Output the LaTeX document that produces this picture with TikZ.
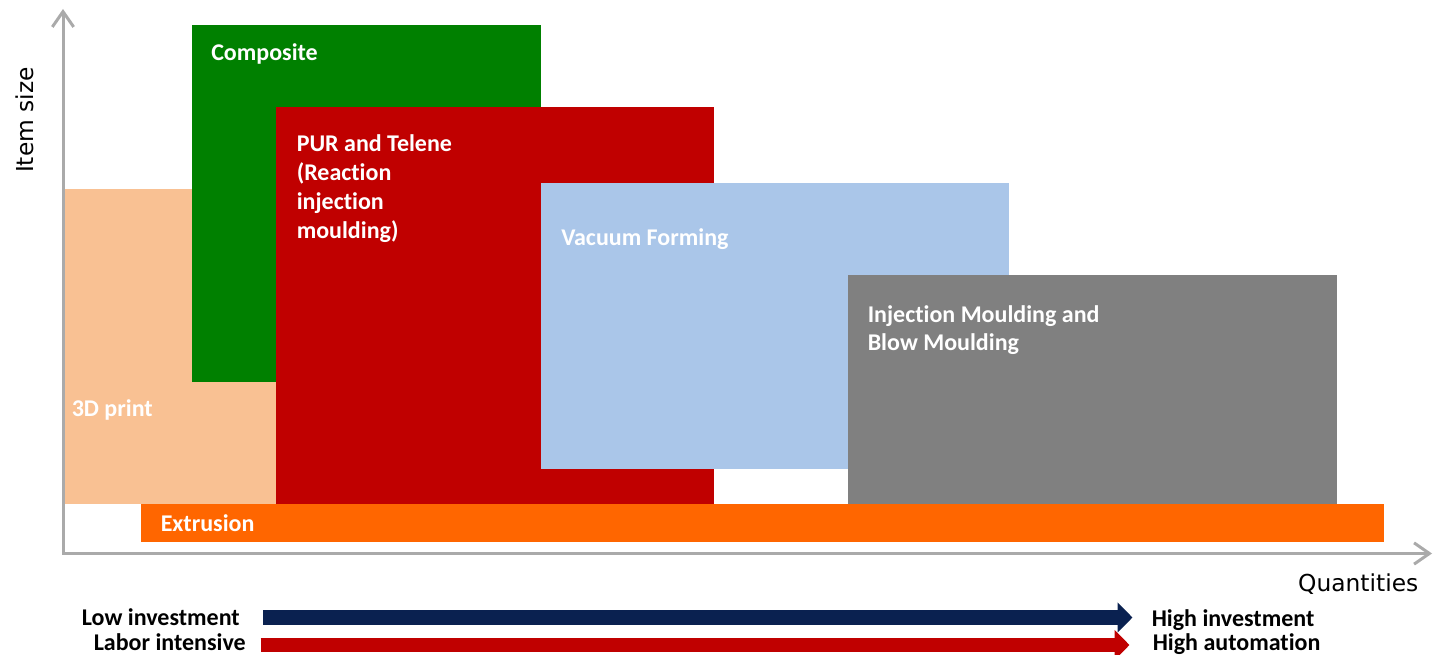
\documentclass[tikz,border=0pt]{standalone}
\usepackage{fontspec}
\setmainfont{Carlito}[Ligatures={NoCommon}]
\newfontfamily\dejavu{DejaVu Sans}
\usetikzlibrary{arrows.meta}
\definecolor{peach}{HTML}{F9C193}
\definecolor{cgreen}{HTML}{008000}
\definecolor{cred}{HTML}{C00000}
\definecolor{lblue}{HTML}{AAC6E9}
\definecolor{cgray}{HTML}{808080}
\definecolor{corange}{HTML}{FF6600}
\definecolor{navy}{HTML}{0A2150}
\definecolor{axisgray}{HTML}{AAAAAA}
\tikzset{
  lbl/.style={anchor=base west, inner sep=0pt, text=white, font=\fontsize{18}{21.75}\selectfont\bfseries},
  blk/.style={inner sep=0pt, text=black, font=\fontsize{18}{21.75}\selectfont\bfseries},
  axislbl/.style={inner sep=0pt, text=black, font=\fontsize{17.5}{21}\selectfont\dejavu},
  axisline/.style={draw=axisgray, line width=2.25pt, -{Straight Barb[length=11.5pt,width=16pt,line width=2.25pt]}},
  fat/.style={line width=10.7pt, -{Triangle[length=11.25pt,width=22pt]}}
}
\begin{document}
\begin{tikzpicture}[x=0.75pt,y=-0.75pt]
\useasboundingbox (0,0) rectangle (1433,655);
% blocks
\fill[peach] (63,189) rectangle (276,504);
\fill[cgreen] (192,25) rectangle (541,382.5);
\fill[cred] (276,106.7) rectangle (714,504);
\fill[lblue] (541,183) rectangle (1009,469);
\fill[cgray] (848,275) rectangle (1337,504);
\fill[corange] (141,504) rectangle (1384,541.5);
% labels
\node[lbl] (comp) at (211,60.5) {Composite};
\node[lbl] (pur1) at (296.5,151.5) {PUR and Telene};
\node[lbl] (pur2) at (296.5,180.5) {(Reaction};
\node[lbl] (pur3) at (296.5,209.5) {injection};
\node[lbl] (pur4) at (296.5,238.5) {moulding)};
\node[lbl] (vac) at (561,245.5) {Vacuum Forming};
\node[lbl] (inj1) at (867.5,322.5) {Injection Moulding and};
\node[lbl] (inj2) at (867.5,351) {Blow Moulding};
\node[lbl] (print) at (71.5,416) {3D print};
\node[lbl] (extr) at (160.5,531) {Extrusion};
% axes
\coordinate (o) at (63,553.5);
\coordinate (ytop) at (63,9);
\coordinate (xend) at (1432,553.5);
\draw[axisline] (o) -- (ytop);
\draw[axisline] ([xshift=-0.5pt]o) -- (xend);
\node[axislbl, rotate=90, anchor=base] (isize) at (33,120) {Item size};
\node[axislbl, anchor=base east] (qty) at (1418.5,591) {Quantities};
% bottom arrows
\coordinate (n1) at (263,617.5);
\coordinate (n2) at (1132.5,617.5);
\coordinate (r1) at (260.5,645);
\coordinate (r2) at (1129.5,645);
\draw[fat, navy] (n1) -- (n2);
\draw[fat, cred] (r1) -- (r2);
\node[blk, anchor=base east] (lowinv) at (240,625.5) {Low investment};
\node[blk, anchor=base east] (labor) at (246,650) {Labor intensive};
\node[blk, anchor=base west] (highinv) at (1151.5,626.5) {High investment};
\node[blk, anchor=base west] (highaut) at (1152.5,650) {High automation};
\end{tikzpicture}
\end{document}
